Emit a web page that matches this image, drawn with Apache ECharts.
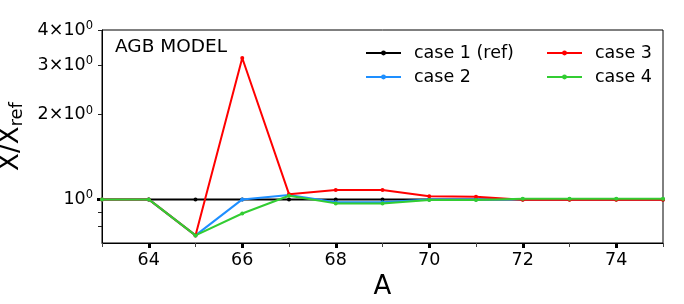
<!DOCTYPE html>
<html>
<head>
<meta charset="utf-8">
<script src="https://cdn.jsdelivr.net/npm/echarts@6/dist/echarts.min.js"></script>
<style>
html,body{margin:0;padding:0;background:#fff;}
#chart{width:684px;height:304px;}
</style>
</head>
<body>
<div id="chart"></div>
<script>
// ---- data ----
const massNumbers = [63, 64, 65, 66, 67, 68, 69, 70, 71, 72, 73, 74, 75];
const case1 = [1, 1, 1, 1, 1, 1, 1, 1, 1, 1, 1, 1, 1];
const case2 = [1, 1, 0.745, 1.0, 1.036, 0.978, 0.978, 1.0, 1.0, 1.002, 1.002, 1.002, 1.002];
const case3 = [1, 1, 0.745, 3.18, 1.044, 1.08, 1.08, 1.027, 1.022, 0.998, 0.998, 0.998, 0.998];
const case4 = [1, 1, 0.745, 0.891, 1.03, 0.968, 0.968, 0.995, 0.995, 1.005, 1.005, 1.005, 1.005];
const seriesNames = ['case 1 (ref)', 'case 2', 'case 3', 'case 4'];
const xTickLabels = [64, 66, 68, 70, 72, 74];
const xMinorTicks = [63, 65, 67, 69, 71, 73, 75];
const yTickLabels = [1, 2, 3, 4];
const yMinorTicks = [0.8, 0.9, 2, 3, 4];

const FONT = 'DejaVu Sans';
const colors = ['#000000', '#1e8fff', '#ff0000', '#32cd32'];
const allSeries = [case1, case2, case3, case4];

function pairs(ys) { return massNumbers.map((x, i) => [x, ys[i]]); }

const chart = echarts.init(document.getElementById('chart'), null, {renderer: 'canvas'});
const option = {
  animation: false,
  backgroundColor: '#fff',
  textStyle: {fontFamily: FONT},
  grid: {left: 102, right: 21, top: 30, bottom: 61, show: true, borderColor: '#000', borderWidth: 1,
         backgroundColor: 'transparent', containLabel: false, outerBoundsMode: 'none'},
  title: {
    text: 'AGB MODEL', left: 110, top: 33,
    textStyle: {fontFamily: FONT, fontSize: 18.5, fontWeight: 'normal', color: '#000'}
  },
  legend: [
    {
      data: [seriesNames[0], seriesNames[1]], orient: 'vertical', left: 365, top: 44,
      itemWidth: 35, itemHeight: 6, itemGap: 6, padding: 0,
      textStyle: {fontFamily: FONT, fontSize: 17.5, color: '#000', padding: [0, 0, 0, 8]}
    },
    {
      data: [seriesNames[2], seriesNames[3]], orient: 'vertical', left: 546, top: 44,
      itemWidth: 35, itemHeight: 6, itemGap: 6, padding: 0,
      textStyle: {fontFamily: FONT, fontSize: 17.5, color: '#000', padding: [0, 0, 0, 8]}
    }
  ],
  xAxis: [
    {
      type: 'value', min: 63, max: 75, interval: 1, position: 'bottom',
      name: 'A', nameLocation: 'middle', nameGap: 27,
      nameTextStyle: {fontFamily: FONT, fontSize: 26, color: '#000'},
      axisLine: {show: true, lineStyle: {color: '#000', width: 1}},
      axisTick: {show: true, customValues: xTickLabels, length: 5, lineStyle: {color: '#000', width: 3}},
      axisLabel: {customValues: xTickLabels, margin: 8, fontFamily: FONT, fontSize: 17.5, color: '#000'},
      splitLine: {show: false}
    },
    {
      type: 'value', min: 63, max: 75, interval: 1, position: 'bottom',
      axisLine: {show: false},
      axisTick: {show: true, customValues: xMinorTicks, length: 4, lineStyle: {color: '#444', width: 1}},
      axisLabel: {show: false},
      splitLine: {show: false}
    }
  ],
  yAxis: [
    {
      type: 'log', logBase: 10, min: 0.7, max: 4, position: 'left',
      name: '{x|X/X}{r|ref}', nameLocation: 'middle', nameRotate: 90, nameGap: 66,
      nameTextStyle: {
        fontFamily: FONT, color: '#000',
        rich: {
          x: {fontFamily: FONT, fontSize: 26, color: '#000'},
          r: {fontFamily: FONT, fontSize: 18, color: '#000', padding: [12, 0, 0, 0]}
        }
      },
      axisLine: {show: true, lineStyle: {color: '#000', width: 1}},
      axisTick: {show: true, customValues: [1], length: 5, lineStyle: {color: '#000', width: 3}},
      axisLabel: {
        customValues: yTickLabels, margin: 9,
        formatter: function (v) {
          const m = Math.round(v);
          return m === 1 ? '{b|10}{s|0}' : '{b|' + m + '×10}{s|0}';
        },
        rich: {
          b: {fontFamily: FONT, fontSize: 17.5, color: '#000'},
          s: {fontFamily: FONT, fontSize: 11.5, color: '#000', padding: [0, 0, 8, 0]}
        }
      },
      splitLine: {show: false}
    },
    {
      type: 'log', logBase: 10, min: 0.7, max: 4, position: 'left',
      axisLine: {show: false},
      axisTick: {show: true, customValues: yMinorTicks, length: 4, lineStyle: {color: '#222', width: 1}},
      axisLabel: {show: false},
      splitLine: {show: false}
    }
  ],
  series: allSeries.map((ys, i) => ({
    name: seriesNames[i], type: 'line', data: pairs(ys),
    xAxisIndex: 0, yAxisIndex: 0,
    symbol: 'circle', symbolSize: 4, showSymbol: true,
    color: colors[i],
    lineStyle: {width: 2, color: colors[i]},
    itemStyle: {color: colors[i]},
    z: 2 + i
  }))
};
chart.setOption(option);
</script>
</body>
</html>
